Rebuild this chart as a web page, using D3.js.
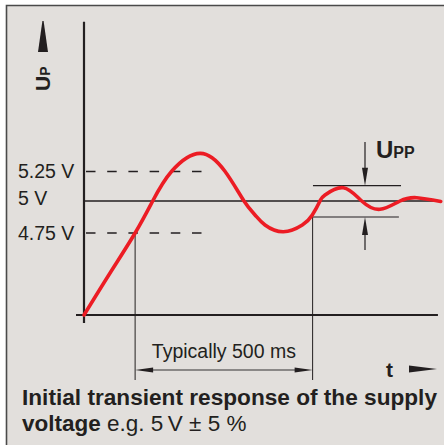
<!DOCTYPE html>
<html><head><meta charset="utf-8">
<script src="https://cdn.jsdelivr.net/npm/d3@7/dist/d3.min.js"></script>
<style>
html,body{margin:0;padding:0;background:#fff;}
svg{display:block;}
text{font-family:"Liberation Sans",Arial,Helvetica,sans-serif;fill:#231f20;}
</style></head>
<body>
<script>
// ---- data ----
const timeMs   = [0, 73, 144, 193.5, 247, 327, 397, 450.7, 481.7, 509.9, 561.4, 614.9, 643.1, 664.8, 678.9, 730.4, 782.3, 833.8, 890.1, 937.2, 1005];
const voltage  = [0, 2.42, 4.75, 5.0, 5.252, 5.404, 5.252, 5.0, 4.891, 4.8125, 4.76, 4.8125, 4.891, 5.0, 5.051, 5.113, 5.0, 4.935, 5.0, 5.028, 4.996];
const tickValues = [5.25, 5, 4.75];
const tickLabels = ["5.25 V", "5 V", "4.75 V"];
const toleranceBand = [4.75, 5.25];
const nominal = 5;
const settleMarks = [144, 644];            // start / end of "Typically 500 ms"
const uppBand = [5.13, 4.875];             // peak-to-peak ripple band
const uppSpan = [[645, 893], [645, 887]];
const dimLabel = "Typically 500 ms";
const captionBold1 = "Initial transient response of the supply";
const captionBold2 = "voltage";
const captionNormal2 = " e.g. 5\u2009V \u00b1 5 %";

// ---- layout ----
const W = 444, H = 445;
const svg = d3.select("body").append("svg").attr("width", W).attr("height", H);
const ink = "#231f20";

svg.append("rect").attr("x", 6).attr("y", 5).attr("width", W - 6).attr("height", H - 5).attr("fill", "#e2dfdc");
svg.append("path").attr("d", `M6.5,${H} V5.5 H${W}`).attr("fill", "none").attr("stroke", "#4a4a4a").attr("stroke-width", 1.6);

const x = d3.scaleLinear().domain([0, 1000]).range([84, 439]);
const y = d3.scaleLinear().domain([0, 4.75, 5, 5.25]).range([315, 233, 201, 171.5]);
const uTop = 6.52;

// axes
svg.append("line").attr("x1", x(0)).attr("x2", x(0)).attr("y1", y(uTop)).attr("y2", y(0) + 8)
  .attr("stroke", ink).attr("stroke-width", 2.2);
svg.append("line").attr("x1", x(0) - 8).attr("x2", x(997)).attr("y1", y(0)).attr("y2", y(0))
  .attr("stroke", ink).attr("stroke-width", 2.2);

// nominal line
svg.append("line").attr("x1", x(0)).attr("x2", x(997)).attr("y1", y(nominal)).attr("y2", y(nominal))
  .attr("stroke", ink).attr("stroke-width", 1.3);

// tolerance dashed lines
toleranceBand.forEach(v => {
  svg.append("line").attr("x1", x(0) + 2).attr("x2", x(332)).attr("y1", y(v)).attr("y2", y(v))
    .attr("stroke", ink).attr("stroke-width", 1.4).attr("stroke-dasharray", "9.5,11.7");
});

// tick labels
tickValues.forEach((v, i) => {
  svg.append("text").attr("x", 18).attr("y", y(v) + (v === nominal ? -2.5 : 0)).attr("dy", "0.35em")
    .attr("font-size", 19.5).text(tickLabels[i]);
});

// settle marker verticals
svg.append("line").attr("x1", x(settleMarks[0])).attr("x2", x(settleMarks[0]))
  .attr("y1", y(4.75)).attr("y2", 380).attr("stroke", ink).attr("stroke-width", 1);
svg.append("line").attr("x1", x(settleMarks[1])).attr("x2", x(settleMarks[1]))
  .attr("y1", y(uppBand[1])).attr("y2", 380).attr("stroke", ink).attr("stroke-width", 1);

// Upp band lines
uppBand.forEach((v, i) => {
  svg.append("line").attr("x1", x(uppSpan[i][0])).attr("x2", x(uppSpan[i][1]))
    .attr("y1", y(v)).attr("y2", y(v)).attr("stroke", ink).attr("stroke-width", 1.2);
});

// Upp arrows
const ax = 365;
const yHi = y(uppBand[0]), yLo = y(uppBand[1]);
svg.append("line").attr("x1", ax).attr("x2", ax).attr("y1", 142).attr("y2", yHi - 14).attr("stroke", ink).attr("stroke-width", 1.2);
svg.append("path").attr("d", `M${ax},${yHi} L${ax - 3},${yHi - 18} L${ax + 3},${yHi - 18} Z`).attr("fill", ink);
svg.append("line").attr("x1", ax).attr("x2", ax).attr("y1", yLo + 14).attr("y2", 250).attr("stroke", ink).attr("stroke-width", 1.2);
svg.append("path").attr("d", `M${ax},${yLo} L${ax - 3},${yLo + 18} L${ax + 3},${yLo + 18} Z`).attr("fill", ink);

// Upp label
const upp = svg.append("text").attr("x", 376).attr("y", 158).attr("font-weight", "bold");
upp.append("tspan").attr("font-size", 24).text("U");
upp.append("tspan").attr("font-size", 16).attr("dx", 0).text("PP");

// dimension line
const dy = 370, dx0 = x(settleMarks[0]), dx1 = x(settleMarks[1]);
svg.append("line").attr("x1", dx0 + 10).attr("x2", dx1 - 10).attr("y1", dy).attr("y2", dy).attr("stroke", "#333").attr("stroke-width", 1.2);
svg.append("path").attr("d", `M${dx0},${dy} L${dx0 + 18},${dy - 2.6} L${dx0 + 18},${dy + 2.6} Z`).attr("fill", ink);
svg.append("path").attr("d", `M${dx1},${dy} L${dx1 - 18},${dy - 2.6} L${dx1 - 18},${dy + 2.6} Z`).attr("fill", ink);
svg.append("text").attr("x", (dx0 + dx1) / 2).attr("y", 358).attr("text-anchor", "middle")
  .attr("font-size", 19.5).text(dimLabel);

// t axis label + arrow
svg.append("text").attr("x", 386).attr("y", 377).attr("font-size", 21).attr("font-weight", "bold").text("t");
svg.append("path").attr("d", "M409,365.5 L437,369 L409,372.5 Z").attr("fill", ink);

// Up axis label + arrow
svg.append("path").attr("d", "M42.4,21 L43.6,21 L48,52 L38,52 Z").attr("fill", ink);
const up = svg.append("text").attr("transform", "translate(50,91) rotate(-90)").attr("font-weight", "bold");
up.append("tspan").attr("font-size", 21).text("U");
up.append("tspan").attr("font-size", 14).text("P");

// curve
const pts = timeMs.map((t, i) => [t, voltage[i]]);
const line = d3.line().x(d => x(d[0])).y(d => y(d[1])).curve(d3.curveNatural);
svg.append("path").datum(pts).attr("d", line).attr("fill", "none")
  .attr("stroke", "#ec1c24").attr("stroke-width", 3.6).attr("stroke-linecap", "round").attr("stroke-linejoin", "round");

// caption
svg.append("text").attr("x", 22).attr("y", 405).attr("font-size", 22.5).attr("font-weight", "bold")
  .attr("textLength", 415).attr("lengthAdjust", "spacingAndGlyphs").text(captionBold1);
const cap2 = svg.append("text").attr("x", 22).attr("y", 431).attr("font-size", 22.5);
cap2.append("tspan").attr("font-weight", "bold").text(captionBold2);
cap2.append("tspan").text(captionNormal2);
</script>
</body></html>
